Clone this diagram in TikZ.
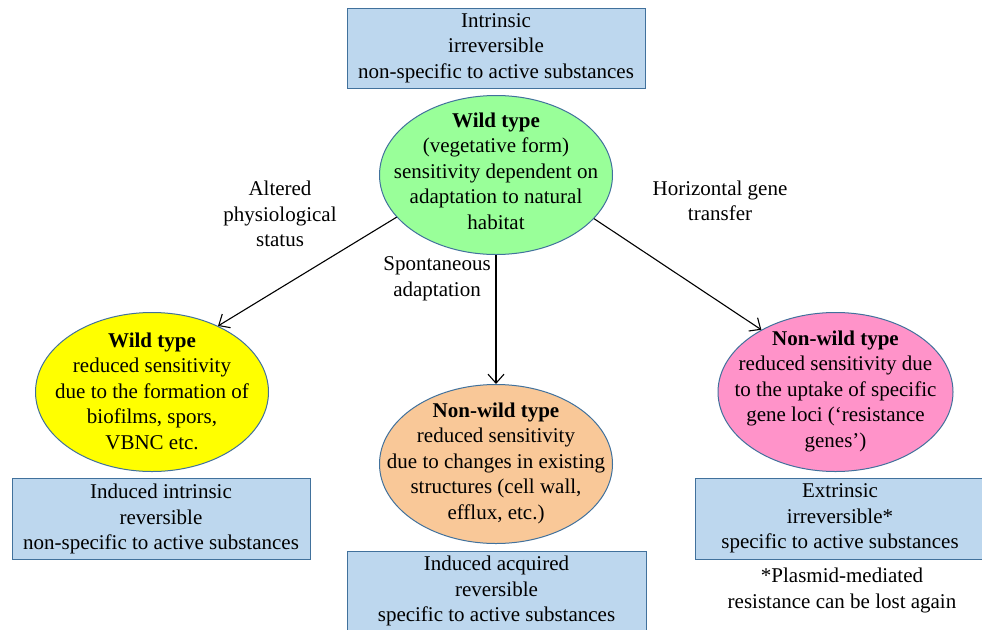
\documentclass[tikz,border=0pt]{standalone}
\usepackage{fontspec}
\setmainfont{Liberation Serif}
\usetikzlibrary{shapes.geometric,arrows.meta}
\definecolor{boxfill}{HTML}{BDD7EE}
\definecolor{boxline}{HTML}{41719C}
\definecolor{wtgreen}{HTML}{99FF99}
\definecolor{wtyellow}{HTML}{FFFF00}
\definecolor{nworange}{HTML}{F9C898}
\definecolor{nwpink}{HTML}{FF93C9}
\tikzset{
  txt/.style={align=center,inner sep=0pt,font=\fontsize{21}{25.5}\selectfont},
  infobox/.style={txt,draw=boxline,line width=1pt,fill=boxfill,rectangle,minimum width=298pt},
  typeell/.style={draw=boxline,line width=1pt,ellipse,inner sep=0pt,minimum width=233pt,minimum height=159pt},
  conn/.style={line width=1.1pt,-{Straight Barb[length=9pt,width=16pt,line width=1.1pt]}},
  lbl/.style={txt}
}
\begin{document}
\begin{tikzpicture}[x=1pt,y=-1pt]
\useasboundingbox (0,0) rectangle (982,629);
\fill[white] (0,0) rectangle (982,629);
% boxes
\node[infobox,minimum height=80pt] (b0) at (496,48) {Intrinsic\\irreversible\\non-specific to active substances};
\node[infobox,minimum height=81pt] (b1) at (161,519) {Induced intrinsic\\reversible\\non-specific to active substances};
\node[infobox,minimum height=80pt,minimum width=299pt] (b2) at (496.5,591) {Induced acquired\\reversible\\specific to active substances};
\node[infobox,minimum height=81pt,minimum width=290pt] (b3) at (840,518.5) {Extrinsic\\irreversible*\\specific to active substances};
% ellipses
\node[typeell,fill=wtgreen] (wt) at (496,175) {};
\node[typeell,fill=wtyellow] (wy) at (152,392) {};
\node[typeell,fill=nworange] (no) at (496,464) {};
\node[typeell,fill=nwpink,minimum width=235pt] (np) at (835.5,392) {};
\node[txt] (wtt) at (496,171) {\textbf{Wild type}\\(vegetative form)\\sensitivity dependent on\\adaptation to natural\\habitat};
\node[txt] (wyt) at (152,391) {\textbf{Wild type}\\reduced sensitivity\\due to the formation of\\biofilms, spors,\\VBNC etc.};
\node[txt] (not) at (496,463) {\textbf{Non-wild type}\\reduced sensitivity\\due to changes in existing\\structures (cell wall,\\efflux, etc.)};
\node[txt] (npt) at (835.5,391) {\textbf{Non-wild type}\\reduced sensitivity due\\to the uptake of specific\\gene loci (‘resistance\\genes’)};
% labels
\node[lbl] (l1) at (280,214) {Altered\\physiological\\status};
\node[lbl] (l2) at (437,279) {Spontaneous\\adaptation};
\node[lbl] (l3) at (720,201) {Horizontal gene\\transfer};
\node[lbl] (fn) at (842,590.5) {*Plasmid-mediated\\resistance can be lost again};
% connectors
\draw[conn] (wt.203) -- (wy.45);
\draw[conn] (wt.south) -- (no.north);
\draw[conn] (wt.336) -- (np.140);
\end{tikzpicture}
\end{document}
